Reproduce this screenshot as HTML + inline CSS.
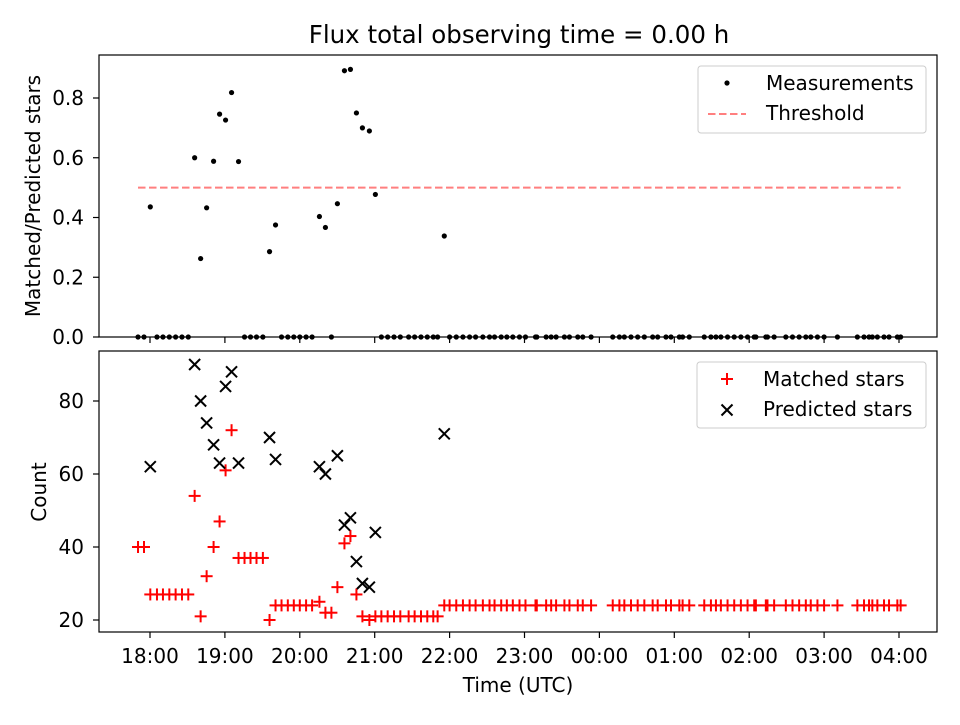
<!DOCTYPE html>
<html><head><meta charset="utf-8"><style>
body{margin:0;background:#fff;font-family:"Liberation Sans",sans-serif}
svg text{font-family:"DejaVu Sans","Liberation Sans",sans-serif;fill:#000}
</style></head><body>
<svg id="chart" width="960" height="720" xmlns="http://www.w3.org/2000/svg"></svg>
<script>
// hours after 18:00 UTC
const times = [-0.16,-0.08,0.004,0.093,0.173,0.258,0.342,0.427,0.511,0.596,0.676,0.756,0.849,0.929,1.009,1.089,1.182,1.262,1.342,1.422,1.507,1.596,1.676,1.756,1.84,1.92,2.0,2.084,2.164,2.262,2.342,2.422,2.502,2.596,2.676,2.756,2.836,2.929,3.009,3.089,3.173,3.258,3.342,3.453,3.533,3.618,3.702,3.782,3.84,3.929,4.0,4.089,4.178,4.267,4.347,4.444,4.533,4.6,4.689,4.764,4.844,4.933,5.013,5.147,5.164,5.289,5.356,5.422,5.533,5.6,5.711,5.778,5.889,6.178,6.267,6.333,6.422,6.511,6.6,6.711,6.778,6.889,6.956,7.067,7.111,7.2,7.4,7.489,7.556,7.622,7.711,7.8,7.889,7.978,8.067,8.089,8.222,8.244,8.333,8.489,8.578,8.667,8.756,8.822,8.911,9.0,9.178,9.444,9.533,9.6,9.644,9.711,9.8,9.867,9.978,10.022];
const matched = [40,40,27,27,27,27,27,27,27,54,21,32,40,47,61,72,37,37,37,37,37,20,24,24,24,24,24,24,24,25,22,22,29,41,43,27,21,20,21,21,21,21,21,21,21,21,21,21,21,24,24,24,24,24,24,24,24,24,24,24,24,24,24,24,24,24,24,24,24,24,24,24,24,24,24,24,24,24,24,24,24,24,24,24,24,24,24,24,24,24,24,24,24,24,24,24,24,24,24,24,24,24,24,24,24,24,24,24,24,24,24,24,24,24,24,24];
const predicted = [0,0,62,0,0,0,0,0,0,90,80,74,68,63,84,88,63,0,0,0,0,70,64,0,0,0,0,0,0,62,60,0,65,46,48,36,30,29,44,0,0,0,0,0,0,0,0,0,0,71,0,0,0,0,0,0,0,0,0,0,0,0,0,0,0,0,0,0,0,0,0,0,0,0,0,0,0,0,0,0,0,0,0,0,0,0,0,0,0,0,0,0,0,0,0,0,0,0,0,0,0,0,0,0,0,0,0,0,0,0,0,0,0,0,0,0];
const xTickLabels = ["18:00","19:00","20:00","21:00","22:00","23:00","00:00","01:00","02:00","03:00","04:00"];
const topTicks = [0.0,0.2,0.4,0.6,0.8];
const botTicks = [20,40,60,80];
const threshold = 0.5;

const NS="http://www.w3.org/2000/svg";
const svg=document.getElementById('chart');
function mk(tag,attrs,parent){const e=document.createElementNS(NS,tag);for(const k in attrs)e.setAttribute(k,attrs[k]);(parent||svg).appendChild(e);return e;}
const L=99,R=937,FS=20;
const X=t=>150+t*74.9;
const Y1=r=>337-r*298.75;
const Y2=c=>620-(c-20)*3.65;

let t=mk('text',{x:519,y:43,'text-anchor':'middle','font-size':24.5});t.textContent='Flux total observing time = 0.00 h';



function axes(top,bot,name){
  const r=mk('rect',{x:L,y:top,width:R-L,height:bot-top,fill:'none',stroke:'#000','stroke-width':1.2});
  
  
  xTickLabels.forEach((lb,i)=>{const x=X(i);const tk=mk('line',{x1:x,x2:x,y1:bot,y2:bot+6,stroke:'#000','stroke-width':1.2});
    
    });
}
axes(55,337,'top-axes');
axes(351,632,'bottom-axes');
xTickLabels.forEach((lb,i)=>{const e=mk('text',{x:X(i),y:663,'text-anchor':'middle','font-size':FS});e.textContent=lb;
  
  });
let xl=mk('text',{x:518,y:692,'text-anchor':'middle','font-size':FS});xl.textContent='Time (UTC)';



topTicks.forEach(v=>{const y=Y1(v);mk('line',{x1:L-6,x2:L,y1:y,y2:y,stroke:'#000','stroke-width':1.2});
  const e=mk('text',{x:L-15,y:y+7,'text-anchor':'end','font-size':FS});e.textContent=v.toFixed(1);
  
  });
botTicks.forEach(v=>{const y=Y2(v);mk('line',{x1:L-6,x2:L,y1:y,y2:y,stroke:'#000','stroke-width':1.2});
  const e=mk('text',{x:L-15,y:y+7,'text-anchor':'end','font-size':FS});e.textContent=v;
  
  });
let yl1=mk('text',{x:40,y:196,'text-anchor':'middle','font-size':FS,transform:'rotate(-90 40 196)'});yl1.textContent='Matched/Predicted stars';


let yl2=mk('text',{x:46,y:492,'text-anchor':'middle','font-size':FS,transform:'rotate(-90 46 492)'});yl2.textContent='Count';



const tmin=Math.min(...times),tmax=Math.max(...times);
const th=mk('line',{x1:X(tmin),x2:X(tmax),y1:Y1(threshold),y2:Y1(threshold),stroke:'#ff7f7f','stroke-width':2,'stroke-dasharray':'7.5,3.5'});



times.forEach((tt,i)=>{const r=predicted[i]>0?matched[i]/predicted[i]:0;
  const c=mk('circle',{cx:X(tt),cy:Y1(r),r:2.6,fill:'#000'});
  
  });

function plus(x,y,col,name,parent){const g=mk('g',{stroke:col,'stroke-width':2},parent);
  mk('line',{x1:x-6,x2:x+6,y1:y,y2:y},g);mk('line',{x1:x,x2:x,y1:y-6,y2:y+6},g);
  
  }
function cross(x,y,col,name,parent){const g=mk('g',{stroke:col,'stroke-width':2},parent);
  mk('line',{x1:x-5.5,x2:x+5.5,y1:y-5.5,y2:y+5.5},g);mk('line',{x1:x-5.5,x2:x+5.5,y1:y+5.5,y2:y-5.5},g);
  
  }
times.forEach((tt,i)=>{plus(X(tt),Y2(matched[i]),'#ff0000','matched-marker');});
times.forEach((tt,i)=>{if(predicted[i]>0)cross(X(tt),Y2(predicted[i]),'#000','predicted-marker');});

const lg1=mk('g',{});


mk('rect',{x:698,y:66,width:228,height:67,rx:3,fill:'#fff',stroke:'#ccc'},lg1);
mk('circle',{cx:727,cy:83,r:2.6,fill:'#000'},lg1);
let e=mk('text',{x:766,y:90,'font-size':FS},lg1);e.textContent='Measurements';
mk('line',{x1:708,x2:746,y1:114,y2:114,stroke:'#ff7f7f','stroke-width':2,'stroke-dasharray':'7.5,3.5'},lg1);
e=mk('text',{x:766,y:120,'font-size':FS},lg1);e.textContent='Threshold';

const lg2=mk('g',{});


mk('rect',{x:697,y:362,width:229,height:66,rx:3,fill:'#fff',stroke:'#ccc'},lg2);
plus(727,379,'#ff0000','legend-matched-marker',lg2);
e=mk('text',{x:763,y:386,'font-size':FS},lg2);e.textContent='Matched stars';
cross(727,410,'#000','legend-predicted-marker',lg2);
e=mk('text',{x:763,y:416,'font-size':FS},lg2);e.textContent='Predicted stars';
</script>
</body></html>
